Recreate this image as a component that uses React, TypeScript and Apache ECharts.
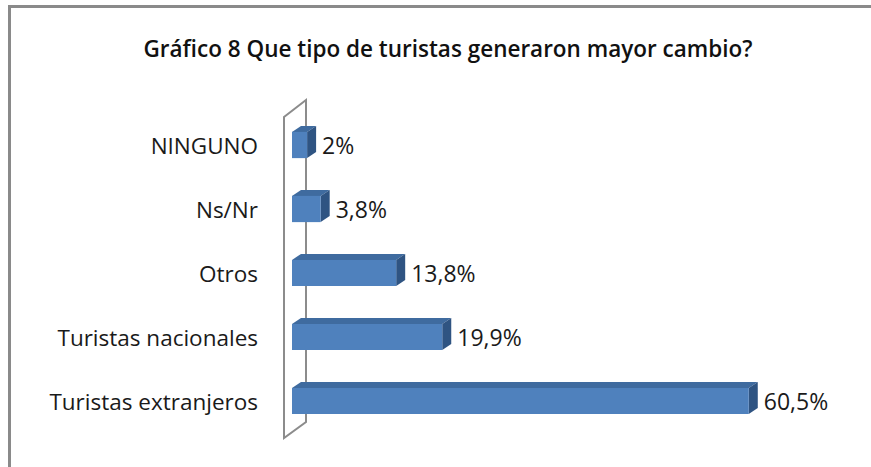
import React, { useEffect, useRef } from "react";
import * as echarts from "echarts";

const titleText = "Gráfico 8 Que tipo de turistas generaron mayor cambio?";
const categories = ["NINGUNO", "Ns/Nr", "Otros", "Turistas nacionales", "Turistas extranjeros"];
const values = [2, 3.8, 13.8, 19.9, 60.5];
const valueLabels = ["2%", "3,8%", "13,8%", "19,9%", "60,5%"];

export default function App() {
  const ref = useRef<HTMLDivElement>(null);
  useEffect(() => {
    const chart = echarts.init(ref.current!, null, { renderer: "svg" });
    const DX = 9;
    const DY = 6;
    chart.setOption({
      animation: false,
      backgroundColor: "#ffffff",
      title: {
        text: titleText,
        left: 443,
        top: 32,
        textAlign: "center",
        textStyle: { fontFamily: "Open Sans", fontWeight: 600, fontSize: 22.5, color: "#111" },
      },
      grid: { left: 292, top: 113, width: 528.5, height: 320 },
      xAxis: { type: "value", min: 0, max: 70, show: false },
      yAxis: {
        type: "category",
        inverse: true,
        data: categories,
        axisLine: { show: false },
        axisTick: { show: false },
        splitLine: { show: false },
        axisLabel: { margin: 34, fontSize: 22.5, color: "#1a1a1a", fontFamily: "Open Sans" },
      },
      graphic: [
        { type: "line", z: 0, shape: { x1: 8, y1: 6.5, x2: 871, y2: 6.5 }, style: { stroke: "#8a8a8a", lineWidth: 3 } },
        { type: "line", z: 0, shape: { x1: 9.5, y1: 5, x2: 9.5, y2: 467 }, style: { stroke: "#8a8a8a", lineWidth: 3 } },
        {
          type: "polygon",
          z: 0,
          shape: { points: [[284, 117], [306, 100], [306, 422], [284, 438]] },
          style: { fill: "none", stroke: "#8c8c8c", lineWidth: 2 },
        },
      ],
      series: [
        {
          type: "custom",
          z: 5,
          data: values.map((v, i) => [v, i]),
          encode: { x: 0, y: 1 },
          renderItem: (params: any, api: any) => {
            const v = api.value(0);
            const idx = api.value(1);
            const start = api.coord([0, idx]);
            const end = api.coord([v, idx]);
            const h = api.size([0, 1])[1] * 0.41;
            const x0 = start[0];
            const x1 = end[0];
            const yc = start[1];
            const y0 = yc - h / 2;
            const y1 = yc + h / 2;
            return {
              type: "group",
              children: [
                {
                  type: "polygon",
                  shape: { points: [[x0, y0], [x0 + DX, y0 - DY], [x1 + DX, y0 - DY], [x1, y0]] },
                  style: { fill: "#3f6b9f" },
                },
                {
                  type: "polygon",
                  shape: { points: [[x1, y0], [x1 + DX, y0 - DY], [x1 + DX, y1 - DY], [x1, y1]] },
                  style: { fill: "#2f5482" },
                },
                { type: "rect", shape: { x: x0, y: y0, width: x1 - x0, height: h }, style: { fill: "#4f81bd" } },
                {
                  type: "text",
                  style: {
                    text: valueLabels[params.dataIndex],
                    x: x1 + DX + 6,
                    y: yc,
                    align: "left",
                    verticalAlign: "middle",
                    fill: "#1a1a1a",
                    font: "23px 'Open Sans'",
                  },
                },
              ],
            };
          },
        },
      ],
    });
    return () => chart.dispose();
  }, []);
  return <div ref={ref} style={{ position: "absolute", left: 0, top: 0, width: 871, height: 467 }} />;
}
